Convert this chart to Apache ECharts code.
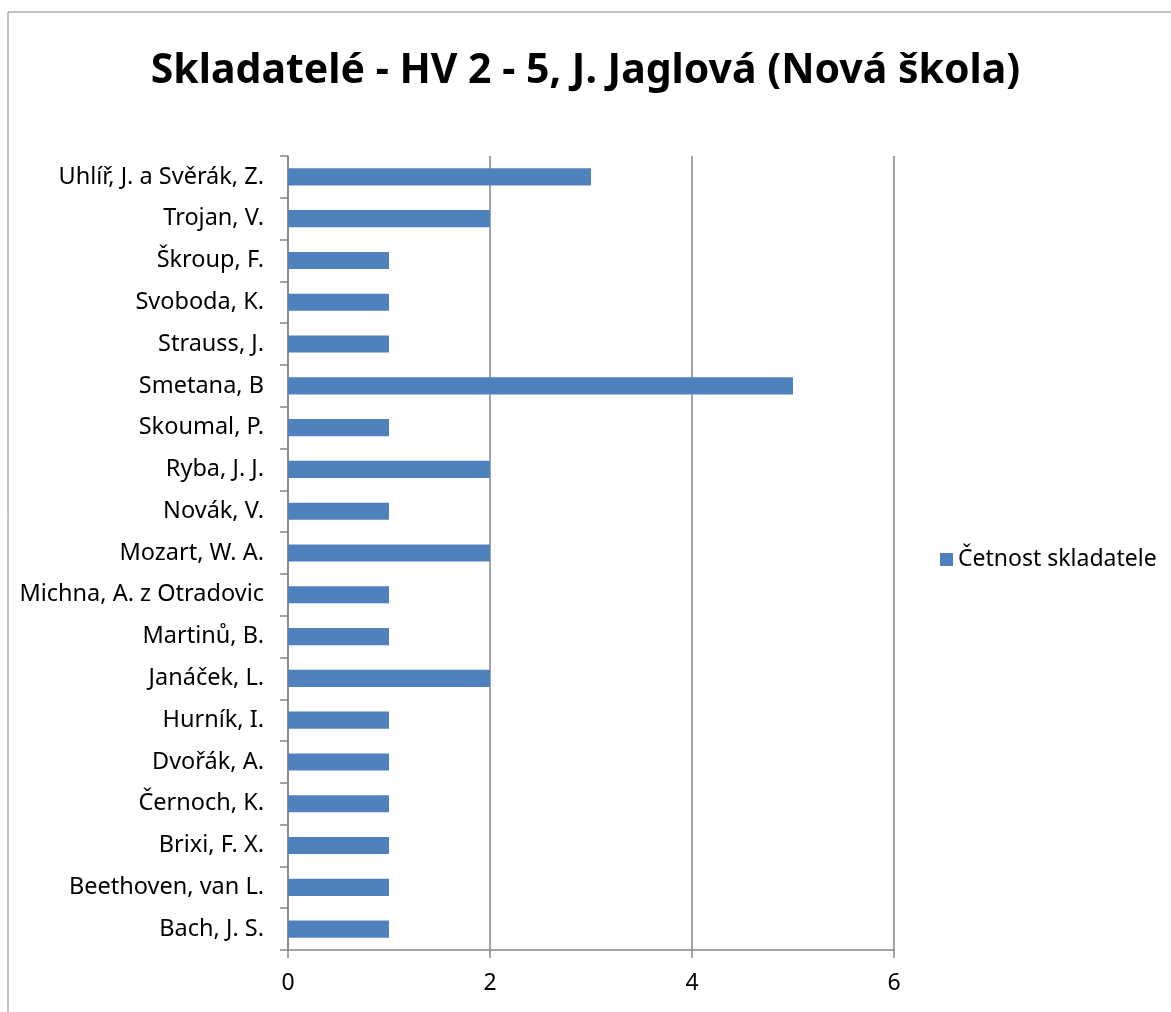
<!DOCTYPE html>
<html>
	<head>
		<meta charset="UTF-8">
		<title>Skladatelé</title>
		<script src="https://cdn.jsdelivr.net/npm/echarts@6/dist/echarts.min.js"></script>
		<style>
			html, body { margin: 0; padding: 0; background: #fff; }
		</style>
	</head>
	<body>
		<div id="bar" style="width:1171px; height:1012px;"></div>
		<script>
			var categories = ['Bach, J. S.', 'Beethoven, van L.', 'Brixi, F. X.', 'Černoch, K.', 'Dvořák, A.',
				'Hurník, I.', 'Janáček, L.', 'Martinů, B.', 'Michna, A. z Otradovic', 'Mozart, W. A.',
				'Novák, V.', 'Ryba, J. J.', 'Skoumal, P.', 'Smetana, B', 'Strauss, J.', 'Svoboda, K.',
				'Škroup, F.', 'Trojan, V.', 'Uhlíř, J. a Svěrák, Z.'];
			var values = [1, 1, 1, 1, 1, 1, 2, 1, 1, 2, 1, 2, 1, 5, 1, 1, 1, 2, 3];
			var seriesName = 'Četnost skladatele';
			var font = '"Noto Sans", sans-serif';

			var chart = echarts.init(document.getElementById('bar'), null, { renderer: 'canvas' });
			chart.setOption({
				animation: false,
				backgroundColor: '#fff',
				title: {
					text: 'Skladatelé - HV 2 - 5, J. Jaglová (Nová škola)',
					left: 'center',
					top: 46,
					textStyle: { fontFamily: font, fontSize: 41, fontWeight: 'bold', color: '#000' }
				},
				graphic: [{
					type: 'rect',
					shape: { x: 8, y: 12, width: 1200, height: 1100 },
					style: { fill: 'none', stroke: '#868686', lineWidth: 1 },
					silent: true
				}],
				legend: {
					left: 935,
					top: 543,
					itemWidth: 13,
					itemHeight: 13,
					itemGap: 6,
					icon: 'rect',
					textStyle: { fontFamily: font, fontSize: 23, color: '#000' },
					data: [seriesName]
				},
				grid: { left: 288, right: 277, top: 156, bottom: 62, containLabel: false },
				xAxis: {
					type: 'value',
					min: 0,
					max: 6,
					interval: 2,
					axisLine: { show: true, lineStyle: { color: '#868686', width: 1.5 } },
					axisTick: { show: true, length: 8, lineStyle: { color: '#868686', width: 1.5 } },
					splitLine: { show: true, lineStyle: { color: '#868686', width: 1.5 } },
					axisLabel: { fontFamily: font, fontSize: 23, color: '#000', margin: 22 }
				},
				yAxis: {
					type: 'category',
					data: categories,
					axisLine: { show: true, lineStyle: { color: '#868686', width: 1.5 } },
					axisTick: { show: true, length: 8, alignWithLabel: false, lineStyle: { color: '#868686', width: 1.5 } },
					axisLabel: { fontFamily: font, fontSize: 23.5, color: '#000', margin: 24 }
				},
				series: [{
					name: seriesName,
					type: 'bar',
					data: values,
					barCategoryGap: '59%',
					itemStyle: { color: '#4F81BD' }
				}]
			});
		</script>
	</body>
</html>
